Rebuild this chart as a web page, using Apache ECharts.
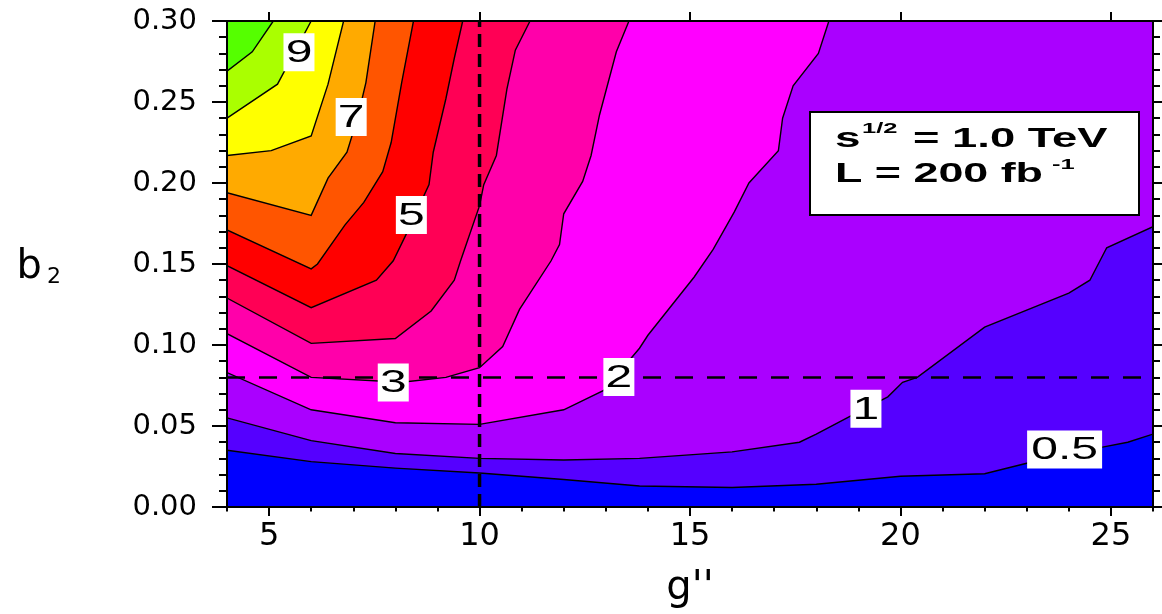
<!DOCTYPE html>
<html>
<head>
<meta charset="utf-8">
<title>b2 vs g'' contours</title>
<script src="https://cdn.jsdelivr.net/npm/echarts@6/dist/echarts.min.js"></script>
<style>
  html, body { margin: 0; padding: 0; background: #fff; }
  #chart { width: 1162px; height: 614px; }
</style>
</head>
<body>
<div id="chart"></div>
<script>
// axis ranges
const X_MIN = 4, X_MAX = 26;
const Y_MIN = 0, Y_MAX = 0.30;

// contour levels and the colour of the band just above each level
const levels = [0.5, 1, 2, 3, 4, 5, 6, 7, 8, 9, 10];
const bandColors = ["#5500ff", "#aa00ff", "#ff00ff", "#ff00aa", "#ff0055",
  "#ff0000", "#ff5500", "#ffaa00", "#ffff00", "#aaff00", "#55ff00"];
const baseColor = "#0000ff";

// contour lines as [g'', b2] points
const c05 = [[4, 0.035], [6, 0.028], [8, 0.024], [10, 0.021], [12, 0.017], [13.8, 0.013],
  [16, 0.012], [18, 0.014], [20, 0.019], [22, 0.0205], [23, 0.027], [24.8, 0.037],
  [25.4, 0.040], [26, 0.045]];
const c1 = [[4, 0.055], [6, 0.041], [8, 0.033], [10, 0.030], [12, 0.029], [13.8, 0.030],
  [16, 0.034], [17.6, 0.040], [18, 0.045], [18.8, 0.056], [19.7, 0.068], [20.05, 0.077],
  [20.4, 0.080], [22, 0.111], [24, 0.132], [24.5, 0.140], [24.9, 0.160], [26, 0.173]];
const c2 = [[4, 0.083], [6, 0.060], [8, 0.052], [10, 0.051], [12, 0.060], [12.95, 0.072],
  [13.8, 0.098], [14, 0.106], [15.1, 0.142], [15.55, 0.159], [16.05, 0.182], [16.4, 0.200],
  [17.1, 0.220], [17.2, 0.240], [17.45, 0.260], [18.05, 0.280], [18.3, 0.30]];
const c3 = [[4, 0.107], [6, 0.080], [8.15, 0.077], [9.2, 0.080], [10, 0.086], [10.55, 0.099],
  [10.95, 0.122], [11.7, 0.152], [11.9, 0.162], [12, 0.181], [12.45, 0.201], [12.65, 0.217],
  [12.85, 0.242], [13.25, 0.281], [13.55, 0.30]];
const c4 = [[4, 0.129], [6, 0.101], [8, 0.104], [8.85, 0.121], [9.4, 0.140], [9.55, 0.152],
  [10, 0.186], [10.1, 0.199], [10.4, 0.217], [10.65, 0.258], [10.85, 0.282], [11.2, 0.30]];
const c5 = [[4, 0.149], [6, 0.123], [7.55, 0.140], [7.95, 0.152], [8.25, 0.168], [8.8, 0.199],
  [8.9, 0.219], [9.2, 0.252], [9.4, 0.277], [9.6, 0.30]];
const c6 = [[4, 0.171], [6, 0.147], [6.15, 0.150], [6.8, 0.174], [7.25, 0.188], [7.7, 0.207],
  [7.9, 0.225], [8.15, 0.262], [8.43, 0.30]];
const c7 = [[4, 0.194], [6, 0.180], [6.4, 0.203], [6.85, 0.219], [7.1, 0.240], [7.3, 0.262],
  [7.52, 0.30]];
const c8 = [[4, 0.217], [5.05, 0.220], [6, 0.229], [6.4, 0.261], [6.77, 0.30]];
const c9 = [[4, 0.240], [5.2, 0.261], [6.0, 0.30]];
const c10 = [[4, 0.269], [4.6, 0.281], [5.1, 0.30]];
const contours = [c05, c1, c2, c3, c4, c5, c6, c7, c8, c9, c10];

// boxed level labels on the contours
const labelText = ["0.5", "1", "2", "3", "5", "7", "9"];
const labelPos = [[23.9, 0.0355], [19.18, 0.0606], [13.31, 0.0803], [7.95, 0.0768],
  [8.38, 0.1802], [6.95, 0.2408], [5.71, 0.2807]];

// dashed reference lines
const refG = 10;
const refB = 0.08;

// ticks
const xTicks = [5, 10, 15, 20, 25];
const xTickLabels = ["5", "10", "15", "20", "25"];
const xMinorTicks = [4, 5, 6, 7, 8, 9, 10, 11, 12, 13, 14, 15, 16, 17, 18, 19, 20,
  21, 22, 23, 24, 25, 26];
const yTickLabels = ["0.00", "0.05", "0.10", "0.15", "0.20", "0.25", "0.30"];
const Y_STEP = 0.05;

const axisFont = "DejaVu Sans";
const black = { color: "#000", width: 2 };

function renderBand(params, api) {
  const pts = contours[params.dataIndex];
  const last = pts[pts.length - 1];
  const poly = pts.slice();
  if (last[0] >= X_MAX) poly.push([X_MAX, Y_MAX]);
  poly.push([X_MIN, Y_MAX]);
  return {
    type: "group",
    children: [
      {
        type: "polygon",
        shape: { points: poly.map((p) => api.coord(p)) },
        style: { fill: bandColors[params.dataIndex] },
      },
      {
        type: "polyline",
        shape: { points: pts.map((p) => api.coord(p)) },
        style: { stroke: "#000", lineWidth: 1.4, fill: null },
      },
    ],
  };
}

function renderLabel(params, api) {
  const text = labelText[params.dataIndex];
  const pt = api.coord([api.value(0), api.value(1)]);
  const w = text.length > 1 ? 75 : 31;
  return {
    type: "group",
    x: pt[0],
    y: pt[1],
    children: [
      {
        type: "rect",
        shape: { x: -w / 2, y: -19, width: w, height: 38 },
        style: { fill: "#fff" },
      },
      {
        type: "text",
        scaleX: 1.5,
        style: {
          text: text,
          x: 0,
          y: 1,
          textAlign: "center",
          textVerticalAlign: "middle",
          font: '32px "Liberation Sans"',
          fill: "#000",
        },
      },
    ],
  };
}

const chart = echarts.init(document.getElementById("chart"));

const option = {
  animation: false,
  grid: {
    left: 227, top: 21, width: 926, height: 486,
    show: true, backgroundColor: baseColor, borderWidth: 0,
  },
  xAxis: [
    {
      type: "value", position: "bottom", min: X_MIN, max: X_MAX, z: 10,
      name: "g''", nameLocation: "middle", nameGap: 62,
      nameTextStyle: { color: "#000", fontSize: 40, fontFamily: axisFont },
      axisLine: { show: true, onZero: false, lineStyle: black },
      axisTick: { show: true, customValues: xTicks, length: 9, lineStyle: black },
      axisLabel: {
        customValues: xTicks,
        formatter: (v) => xTickLabels[xTicks.indexOf(v)],
        margin: 14, color: "#000", fontSize: 32, fontFamily: axisFont,
      },
      splitLine: { show: false },
    },
    {
      type: "value", position: "bottom", min: X_MIN, max: X_MAX, z: 10,
      axisLine: { show: false, onZero: false },
      axisTick: { show: true, customValues: xMinorTicks, length: 4.5, lineStyle: black },
      axisLabel: { show: false },
      splitLine: { show: false },
    },
    {
      type: "value", position: "top", min: X_MIN, max: X_MAX, z: 10,
      axisLine: { show: true, onZero: false, lineStyle: black },
      axisTick: { show: true, customValues: xTicks, length: 9, lineStyle: black },
      axisLabel: { show: false },
      splitLine: { show: false },
    },
  ],
  yAxis: [
    {
      type: "value", position: "left", min: Y_MIN, max: Y_MAX, interval: Y_STEP, z: 10,
      name: "{b|b}{s|2}", nameLocation: "middle", nameRotate: 0, nameGap: 166,
      nameTextStyle: {
        rich: {
          b: { fontSize: 40, fontFamily: axisFont, color: "#000", verticalAlign: "bottom", lineHeight: 48 },
          s: { fontSize: 22, fontFamily: axisFont, color: "#000", verticalAlign: "bottom", lineHeight: 22, padding: [0, 0, 0, 5] },
        },
      },
      axisLine: { show: true, onZero: false, lineStyle: black },
      axisTick: { show: true, length: 15, lineStyle: black },
      minorTick: { show: true, splitNumber: 5, length: 8, lineStyle: black },
      axisLabel: {
        formatter: (v) => yTickLabels[Math.round(v / Y_STEP)],
        margin: 30, color: "#000", fontSize: 29, fontFamily: axisFont,
      },
      splitLine: { show: false },
      minorSplitLine: { show: false },
    },
    {
      type: "value", position: "right", min: Y_MIN, max: Y_MAX, interval: Y_STEP, z: 10,
      axisLine: { show: true, onZero: false, lineStyle: black },
      axisTick: { show: true, length: 9, lineStyle: black },
      minorTick: { show: true, splitNumber: 5, length: 7, lineStyle: black },
      axisLabel: { show: false },
      splitLine: { show: false },
    },
  ],
  series: [
    {
      type: "custom", name: "bands", xAxisIndex: 0, yAxisIndex: 0,
      renderItem: renderBand, data: levels, clip: true, z: 1, silent: true,
    },
    {
      type: "line", xAxisIndex: 0, yAxisIndex: 0, z: 2, silent: true, symbol: "none",
      data: [[refG, Y_MIN], [refG, Y_MAX]],
      lineStyle: { color: "#000", width: 3.5, type: [13, 7] },
    },
    {
      type: "line", xAxisIndex: 0, yAxisIndex: 0, z: 2, silent: true, symbol: "none",
      data: [[X_MIN, refB], [X_MAX, refB]],
      lineStyle: { color: "#000", width: 2.5, type: [18, 14] },
    },
    {
      type: "custom", name: "labels", xAxisIndex: 0, yAxisIndex: 0,
      renderItem: renderLabel, data: labelPos, z: 3, silent: true,
    },
  ],
  graphic: [
    {
      type: "rect", z: 100,
      shape: { x: 810, y: 112, width: 329, height: 103 },
      style: { fill: "#fff", stroke: "#000", lineWidth: 2 },
    },
    {
      type: "text", z: 101, x: 835, y: 153, scaleX: 1.7,
      style: { text: "s", font: 'bold 27px "Liberation Sans"', fill: "#000", textVerticalAlign: "bottom" },
    },
    {
      type: "text", z: 101, x: 862, y: 136, scaleX: 1.7,
      style: { text: "1/2", font: 'bold 15px "Liberation Sans"', fill: "#000", textVerticalAlign: "bottom" },
    },
    {
      type: "text", z: 101, x: 913, y: 153, scaleX: 1.68,
      style: { text: "= 1.0 TeV", font: 'bold 27px "Liberation Sans"', fill: "#000", textVerticalAlign: "bottom" },
    },
    {
      type: "text", z: 101, x: 835, y: 188, scaleX: 1.66,
      style: { text: "L = 200 fb", font: 'bold 27px "Liberation Sans"', fill: "#000", textVerticalAlign: "bottom" },
    },
    {
      type: "text", z: 101, x: 1052, y: 172, scaleX: 1.7,
      style: { text: "-1", font: 'bold 15px "Liberation Sans"', fill: "#000", textVerticalAlign: "bottom" },
    },
  ],
};

chart.setOption(option);
window.addEventListener("resize", chart.resize);
</script>
</body>
</html>
